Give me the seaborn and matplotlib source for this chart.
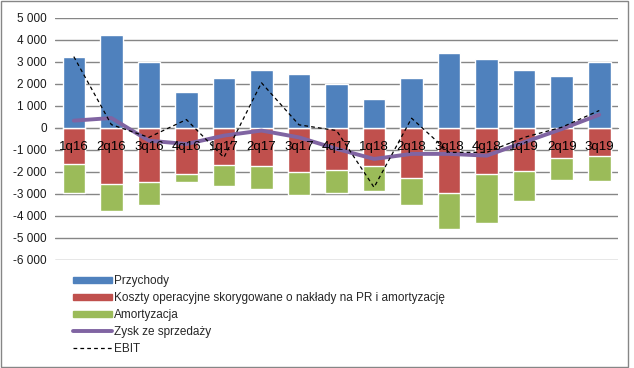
import numpy as np
import pandas as pd
import matplotlib
matplotlib.use("Agg")
import matplotlib.pyplot as plt
import seaborn as sns
from matplotlib.patches import Patch, Rectangle
from matplotlib.lines import Line2D
from matplotlib.ticker import FuncFormatter

# Quarterly data
quarters = ['1q16', '2q16', '3q16', '4q16', '1q17', '2q17', '3q17', '4q17',
            '1q18', '2q18', '3q18', '4q18', '1q19', '2q19', '3q19']
przychody = [3240, 4210, 2980, 1650, 2290, 2650, 2470, 1980,
             1330, 2290, 3420, 3150, 2650, 2380, 2980]
koszty = [-1620, -2560, -2440, -2110, -1700, -1750, -1990, -1900,
          -1750, -2260, -2970, -2080, -1940, -1350, -1260]
amortyzacja = [-1350, -1230, -1080, -360, -950, -1040, -1070, -1070,
               -1130, -1260, -1640, -2260, -1400, -1030, -1170]
zysk = [330, 450, -580, -730, -350, -120, -430, -950,
        -1410, -1180, -1180, -1260, -650, -50, 600]
ebit = [3240, 150, -430, 380, -1340, 2050, 140, -120,
        -2700, 440, -1110, -1110, -430, 30, 790]

labels = ['Przychody',
          'Koszty operacyjne skorygowane o nakłady na PR i amortyzację',
          'Amortyzacja', 'Zysk ze sprzedaży', 'EBIT']
colors = ['#4F81BD', '#C0504D', '#9BBB59', '#8064A2', 'black']

df = pd.DataFrame({'kw': quarters, 'przychody': przychody, 'koszty': koszty,
                   'amort': amortyzacja, 'zysk': zysk, 'ebit': ebit})
df['dol'] = df['koszty'] + df['amort']  # stacked bottom of negative bars
df['x'] = np.arange(len(df))

sns.set_style('white')
plt.rcParams['font.family'] = ['Liberation Sans', 'DejaVu Sans']

fig = plt.figure(figsize=(6.34, 3.68), dpi=100)
ax = fig.add_axes([0.0868, 0.2935, 0.888, 0.658])

# bars: green (full negative stack) first, red over it, blue positive
sns.barplot(data=df, x='kw', y='dol', color=colors[2], width=0.6,
            saturation=1, ax=ax, zorder=2)
sns.barplot(data=df, x='kw', y='koszty', color=colors[1], width=0.6,
            saturation=1, ax=ax, zorder=2)
sns.barplot(data=df, x='kw', y='przychody', color=colors[0], width=0.6,
            saturation=1, ax=ax, zorder=2)

# lines
sns.lineplot(data=df, x='x', y='zysk', color=colors[3], linewidth=2.8,
             ax=ax, zorder=4)
sns.lineplot(data=df, x='x', y='ebit', color='black', linewidth=0.9,
             linestyle=(0, (3, 2.5)), ax=ax, zorder=5)

ax.set_xlim(-0.5, len(df) - 0.5)
ax.set_ylim(-6000, 5000)
ax.set_yticks(range(-6000, 5001, 1000))
ax.yaxis.set_major_formatter(FuncFormatter(lambda v, p: f'{int(v):,}'.replace(',', ' ')))
ax.yaxis.grid(True, color='#868686', linewidth=1)
ax.set_axisbelow(True)
ax.xaxis.set_zorder(6)  # category labels drawn over the bars
ax.set_xlabel('')
ax.set_ylabel('')

for s in ['top', 'left', 'right']:
    ax.spines[s].set_visible(False)
ax.spines['bottom'].set_position(('data', 0))
ax.spines['bottom'].set_color('#868686')
ax.spines['bottom'].set_zorder(1)
ax.tick_params(axis='x', length=0, pad=9.5, labelsize=9.5, labelcolor='black')
ax.tick_params(axis='y', length=0, pad=6, labelsize=8.5, labelcolor='#1a1a1a')

handles = [Patch(color=colors[0]), Patch(color=colors[1]), Patch(color=colors[2]),
           Line2D([], [], color=colors[3], linewidth=2.8),
           Line2D([], [], color='black', linewidth=0.9, linestyle=(0, (3, 2.5)))]
fig.legend(handles, labels, loc='upper left', bbox_to_anchor=(0.108, 0.265),
           frameon=False, fontsize=8.5, handlelength=3.3, handleheight=0.45,
           handletextpad=0.12, labelspacing=0.42, borderaxespad=0)

fig.patches.append(Rectangle((0.001, 0.004), 0.99, 0.994, transform=fig.transFigure,
                             fill=False, edgecolor='#868686', linewidth=1))

fig.savefig('out.png', dpi=100)
